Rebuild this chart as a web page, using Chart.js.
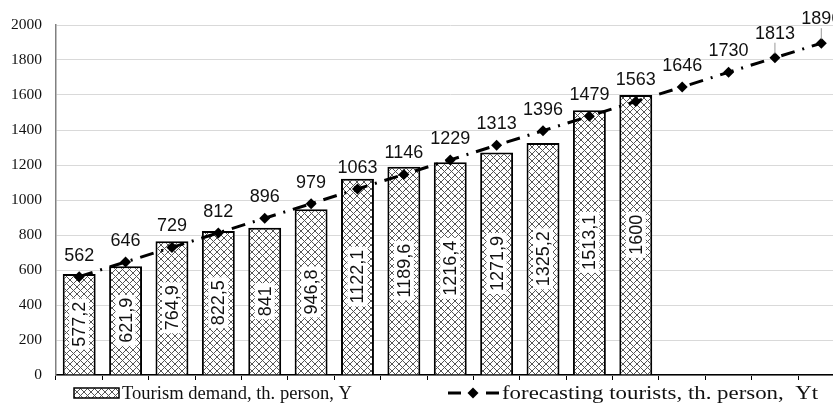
<!DOCTYPE html>
<html>
<head>
<meta charset="utf-8">
<script src="https://cdn.jsdelivr.net/npm/chart.js@4.4.1/dist/chart.umd.min.js"></script>
<style>
  html, body { margin: 0; padding: 0; background: #fff; overflow: hidden; }
  #wrap { width: 850px; height: 405px; }
</style>
</head>
<body>
<div id="wrap"><canvas id="chart" width="850" height="405"></canvas></div>
<script>
  // periods (not labelled on the axis in the original)
  const periods = ['1', '2', '3', '4', '5', '6', '7', '8', '9', '10', '11', '12', '13', '14', '15', '16', '17'];
  const demand = [577.2, 621.9, 764.9, 822.5, 841, 946.8, 1122.1, 1189.6, 1216.4, 1271.9, 1325.2, 1513.1, 1600, null, null, null, null];
  const forecast = [562, 646, 729, 812, 896, 979, 1063, 1146, 1229, 1313, 1396, 1479, 1563, 1646, 1730, 1813, 1896];
  const yMin = 0;
  const yMax = 2000;
  const yStep = 200;
  const demandName = 'Tourism demand, th. person, Y';
  const forecastName = 'forecasting tourists, th. person,  Yt';

  const canvas = document.getElementById('chart');
  const ctx = canvas.getContext('2d');

  function makeHatch() {
    const tile = document.createElement('canvas');
    tile.width = 7;
    tile.height = 7;
    const g = tile.getContext('2d');
    g.fillStyle = '#fff';
    g.fillRect(0, 0, 7, 7);
    g.strokeStyle = '#555';
    g.lineWidth = 1;
    g.beginPath();
    g.moveTo(0, 0); g.lineTo(7, 7);
    g.moveTo(7, 0); g.lineTo(0, 7);
    g.stroke();
    return ctx.createPattern(tile, 'repeat');
  }
  const hatch = makeHatch();

  const fmt = v => String(v).replace('.', ',');

  const valueLabels = {
    id: 'valueLabels',
    afterDatasetsDraw(chart) {
      const c = chart.ctx;
      c.save();
      c.font = '18px "Liberation Sans", Arial, sans-serif';
      c.textAlign = 'center';
      c.textBaseline = 'middle';

      // rotated labels in the middle of each bar
      chart.getDatasetMeta(1).data.forEach((bar, i) => {
        if (demand[i] == null) return;
        const txt = fmt(demand[i]);
        const w = c.measureText(txt).width;
        const mid = (bar.y + bar.base) / 2;
        c.save();
        c.translate(bar.x, mid);
        c.rotate(-Math.PI / 2);
        c.fillStyle = '#fff';
        c.fillRect(-w / 2 - 3, -10, w + 6, 20);
        c.fillStyle = '#111';
        c.fillText(txt, 0, 1);
        c.restore();
      });

      // labels above forecast points
      chart.getDatasetMeta(0).data.forEach((pt, i) => {
        const lifted = i >= 15;
        const ly = pt.y - (lifted ? 24 : 21);
        c.fillStyle = '#111';
        c.fillText(String(forecast[i]), pt.x, ly);
        if (lifted) {
          c.strokeStyle = '#999';
          c.lineWidth = 1;
          c.beginPath();
          c.moveTo(pt.x, ly + 9);
          c.lineTo(pt.x, pt.y - 4);
          c.stroke();
        }
      });
      c.restore();
    }
  };

  function stretchedText(c, txt, x, y, width) {
    const w = c.measureText(txt).width;
    c.save();
    c.translate(x, y);
    c.scale(width / w, 1);
    c.fillText(txt, 0, 0);
    c.restore();
  }

  const legendDraw = {
    id: 'legendDraw',
    afterDraw(chart) {
      const c = chart.ctx;
      const y = 393;
      c.save();
      c.fillStyle = hatch;
      c.fillRect(74, y - 5, 45, 10);
      c.strokeStyle = '#000';
      c.lineWidth = 1.5;
      c.strokeRect(74, y - 5, 45, 10);

      c.lineWidth = 3;
      c.beginPath();
      c.moveTo(448, y); c.lineTo(461, y);
      c.moveTo(486, y); c.lineTo(499, y);
      c.stroke();
      c.fillStyle = '#000';
      c.beginPath();
      c.moveTo(473, y - 5.5); c.lineTo(478.5, y); c.lineTo(473, y + 5.5); c.lineTo(467.5, y);
      c.closePath();
      c.fill();

      c.font = '18.5px "Liberation Serif", "Times New Roman", serif';
      c.textBaseline = 'middle';
      c.fillStyle = '#111';
      stretchedText(c, demandName, 122, y + 1, 230);
      stretchedText(c, forecastName, 502, y + 1, 316);
      c.restore();
    }
  };

  new Chart(ctx, {
    data: {
      labels: periods,
      datasets: [
        {
          type: 'line',
          label: forecastName,
          data: forecast,
          order: 0,
          borderColor: '#000',
          borderWidth: 3,
          borderDash: [14, 8, 2, 8],
          pointStyle: 'rectRot',
          pointRadius: 5.5,
          pointBackgroundColor: '#000',
          pointBorderWidth: 0,
          tension: 0,
          fill: false,
        },
        {
          type: 'bar',
          label: demandName,
          data: demand,
          order: 1,
          backgroundColor: hatch,
          borderColor: '#000',
          borderWidth: 2,
          barPercentage: 0.71,
          categoryPercentage: 1,
        },
      ],
    },
    options: {
      responsive: false,
      animation: false,
      layout: { padding: { top: 25, bottom: 25, left: 0, right: 3 } },
      plugins: {
        legend: { display: false },
        tooltip: { enabled: false },
      },
      scales: {
        x: {
          type: 'category',
          offset: true,
          afterFit: s => { s.height = 5; },
          grid: { offset: true, drawOnChartArea: false, drawTicks: true, tickLength: 5, color: '#000' },
          border: { color: '#000', width: 1.5 },
          ticks: { display: false },
        },
        y: {
          min: yMin,
          max: yMax,
          afterFit: s => { s.width = 56; },
          ticks: {
            stepSize: yStep,
            padding: 14,
            color: '#111',
            callback: v => String(v),
            font: { family: '"Liberation Serif", "Times New Roman", serif', size: 15.5 },
          },
          grid: { color: '#d9d9d9', lineWidth: 1, drawTicks: false },
          border: { color: '#808080', width: 1.5 },
        },
      },
    },
    plugins: [valueLabels, legendDraw],
  });
</script>
</body>
</html>
